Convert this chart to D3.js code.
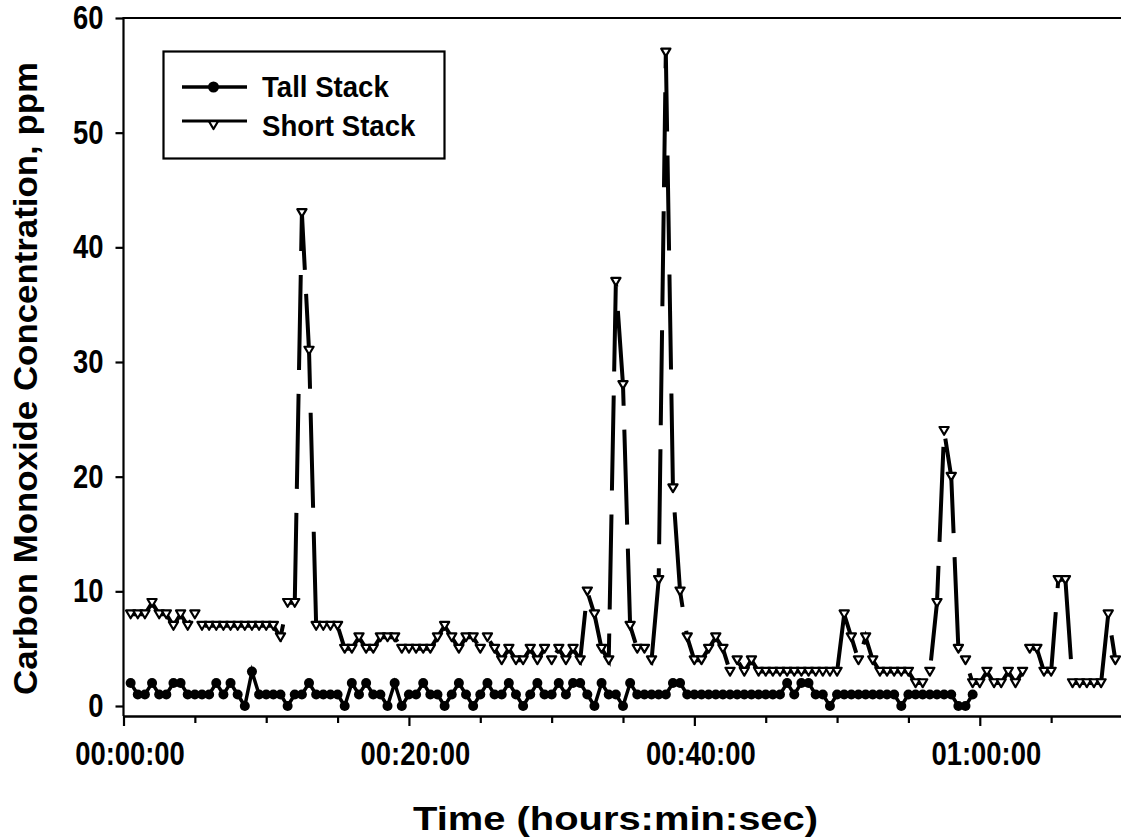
<!DOCTYPE html>
<html>
<head>
<meta charset="utf-8">
<script src="https://cdn.jsdelivr.net/npm/d3@7"></script>
<style>
  body { margin: 0; background: #fff; }
  svg  { display: block; font-family: "Liberation Sans", Arial, sans-serif; font-weight: bold; }
</style>
</head>
<body>
<div id="chart"></div>
<script>
// one reading every 30 s, first reading at 00:00:30
const sampleStart = 30;
const sampleStep  = 30;

// CO, ppm - tall stack (ends around 00:59:30)
const tallStack = [
  2,1,1,2,1,1,2,2,1,1, 1,1,2,1,2,1,0,3,1,1,
  1,1,0,1,1,2,1,1,1,1, 0,2,1,2,1,1,0,2,0,1,
  1,2,1,1,0,1,2,1,0,1, 2,1,1,2,1,0,1,2,1,1,
  2,1,2,2,1,0,2,1,1,0, 2,1,1,1,1,1,2,2,1,1,
  1,1,1,1,1,1,1,1,1,1, 1,1,2,1,2,2,1,1,0,1,
  1,1,1,1,1,1,1,1,0,1, 1,1,1,1,1,1,0,0,1
];

// CO, ppm - short stack
const shortStack = [
  8,8,8,9,8,8,7,8,7,8, 7,7,7,7,7,7,7,7,7,7,
  7,6,9,9,43,31,7,7,7,7, 5,5,6,5,5,6,6,6,5,5,
  5,5,5,6,7,6,5,6,6,5, 6,5,4,5,4,4,5,4,5,4,
  5,4,5,4,10,8,5,4,37,28, 7,5,5,4,11,57,19,10,6,4,
  4,5,6,5,3,4,3,4,3,3, 3,3,3,3,3,3,3,3,3,3,
  8,6,4,6,4,3,3,3,3,3, 2,2,3,9,24,20,5,4,2,2,
  3,2,2,3,2,3,5,5,3,3, 11,11,2,2,2,2,2,8,4
];

const yTicks       = [0, 10, 20, 30, 40, 50, 60];
const xMajorTicks  = [0, 1200, 2400, 3600];
const xTickLabels  = ["00:00:00", "00:20:00", "00:40:00", "01:00:00"];
const xMinorTicks  = [300, 600, 900, 1500, 1800, 2100, 2700, 3000, 3300, 3900];
const seriesNames  = ["Tall Stack", "Short Stack"];

const width  = 1121;
const height = 839;
const plotLeft = 123.5, plotTop = 18, plotBottom = 716;

const svg = d3.select("#chart").append("svg")
  .attr("width", width)
  .attr("height", height);

const x = d3.scaleLinear().domain([0, 4200]).range([plotLeft, 1122.5]);
const y = d3.scaleLinear().domain([0, 60]).range([706, plotTop]);

const toPoints = arr => arr.map((v, i) => ({ t: sampleStart + i * sampleStep, v: v }));
const tall  = toPoints(tallStack);
const short = toPoints(shortStack);

// squeeze glyphs a little, the scanned lettering is narrower than Arial
function squeeze(sel, k) {
  sel.each(function() {
    const len = this.getComputedTextLength();
    d3.select(this).attr("textLength", len * k).attr("lengthAdjust", "spacingAndGlyphs");
  });
}

// frame
svg.append("line")
  .attr("x1", plotLeft).attr("x2", width + 2).attr("y1", plotTop).attr("y2", plotTop)
  .attr("stroke", "#000").attr("stroke-width", 2.2);
svg.append("line")
  .attr("x1", plotLeft).attr("x2", plotLeft).attr("y1", plotTop - 1).attr("y2", plotBottom)
  .attr("stroke", "#000").attr("stroke-width", 2.2);

// x axis
const xAxis = svg.append("g")
  .attr("transform", `translate(0,${plotBottom})`)
  .call(d3.axisBottom(x).tickValues(xMajorTicks).tickSize(10).tickSizeOuter(0).tickPadding(16)
    .tickFormat((d, i) => xTickLabels[i]));
xAxis.select(".domain").attr("stroke-width", 2.5);
xAxis.selectAll(".tick line").attr("stroke-width", 2.2);
xAxis.selectAll("text")
  .attr("font-size", 33).attr("font-family", "Liberation Sans, Arial, sans-serif")
  .attr("font-weight", "bold").attr("fill", "#000").attr("dx", 6)
  .call(squeeze, 0.83);

svg.append("g")
  .attr("transform", `translate(0,${plotBottom})`)
  .call(d3.axisBottom(x).tickValues(xMinorTicks).tickSize(7).tickFormat(""))
  .call(g => g.select(".domain").remove())
  .selectAll(".tick line").attr("stroke-width", 2.2);

// y axis
const yAxis = svg.append("g")
  .attr("transform", `translate(${plotLeft},0)`)
  .call(d3.axisLeft(y).tickValues(yTicks).tickSize(8).tickPadding(12));
yAxis.select(".domain").remove();
yAxis.selectAll(".tick line").attr("stroke-width", 2.2);
yAxis.selectAll("text")
  .attr("font-size", 33).attr("font-family", "Liberation Sans, Arial, sans-serif")
  .attr("font-weight", "bold").attr("fill", "#000")
  .call(squeeze, 0.83);

// axis titles
svg.append("text")
  .attr("x", 615.5).attr("y", 830)
  .attr("text-anchor", "middle")
  .attr("font-size", 34)
  .attr("textLength", 405).attr("lengthAdjust", "spacingAndGlyphs")
  .text("Time (hours:min:sec)");

svg.append("text")
  .attr("transform", "translate(37,378.5) scale(0.94,1) rotate(-90)")
  .attr("text-anchor", "middle")
  .attr("font-size", 35)
  .attr("textLength", 633).attr("lengthAdjust", "spacingAndGlyphs")
  .text("Carbon Monoxide Concentration, ppm");

// series
const line = d3.line().x(d => x(d.t)).y(d => y(d.v));
const triangle = "M-4.6,-3.8L4.6,-3.8L0,4Z";

svg.append("path")
  .datum(tall)
  .attr("d", line)
  .attr("fill", "none")
  .attr("stroke", "#000")
  .attr("stroke-width", 3.5);

svg.append("g").selectAll("circle")
  .data(tall)
  .enter()
  .append("circle")
  .attr("cx", d => x(d.t))
  .attr("cy", d => y(d.v))
  .attr("r", 5)
  .attr("fill", "#000");

svg.append("path")
  .datum(short)
  .attr("d", line)
  .attr("fill", "none")
  .attr("stroke", "#000")
  .attr("stroke-width", 4)
  .attr("stroke-dasharray", "95,24");

svg.append("g").selectAll("path")
  .data(short)
  .enter()
  .append("path")
  .attr("d", triangle)
  .attr("transform", d => `translate(${x(d.t)},${y(d.v)})`)
  .attr("fill", "#fff")
  .attr("stroke", "#000")
  .attr("stroke-width", 2.2)
  .attr("stroke-linejoin", "round");

// legend
const legend = svg.append("g");
legend.append("rect")
  .attr("x", 163.5).attr("y", 51.5).attr("width", 281).attr("height", 107)
  .attr("fill", "#fff").attr("stroke", "#000").attr("stroke-width", 2.2);

legend.append("line")
  .attr("x1", 182).attr("x2", 247).attr("y1", 87).attr("y2", 87)
  .attr("stroke", "#000").attr("stroke-width", 3.5);
legend.append("circle")
  .attr("cx", 213.5).attr("cy", 87).attr("r", 5.5).attr("fill", "#000");

legend.append("line")
  .attr("x1", 182).attr("x2", 247).attr("y1", 121).attr("y2", 121)
  .attr("stroke", "#000").attr("stroke-width", 3);
legend.append("path")
  .attr("d", triangle)
  .attr("transform", "translate(213.5,125)")
  .attr("fill", "#fff").attr("stroke", "#000").attr("stroke-width", 2.2)
  .attr("stroke-linejoin", "round");

legend.selectAll("text.lab")
  .data(seriesNames)
  .enter()
  .append("text")
  .attr("class", "lab")
  .attr("x", 262)
  .attr("y", (d, i) => i === 0 ? 97 : 135.5)
  .attr("font-size", 30)
  .text(d => d)
  .call(squeeze, 0.92);
</script>
</body>
</html>
